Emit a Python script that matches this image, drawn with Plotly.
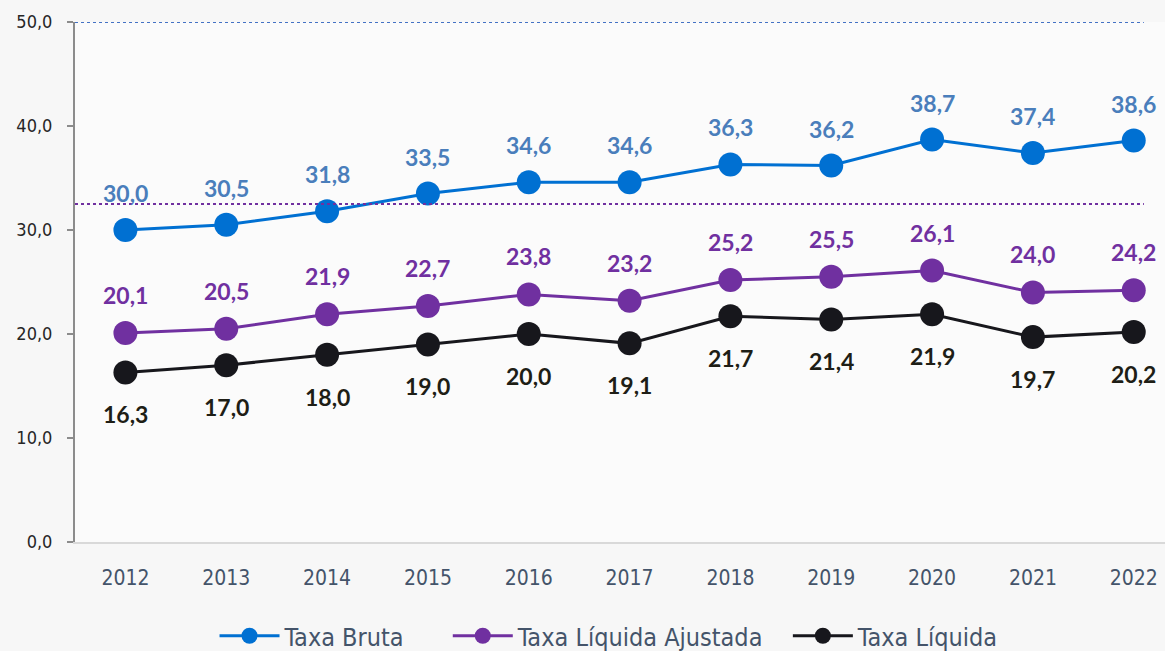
import plotly.graph_objects as go

anos = [2012, 2013, 2014, 2015, 2016, 2017, 2018, 2019, 2020, 2021, 2022]
taxa_bruta = [30.0, 30.5, 31.8, 33.5, 34.6, 34.6, 36.3, 36.2, 38.7, 37.4, 38.6]
taxa_liq_ajustada = [20.1, 20.5, 21.9, 22.7, 23.8, 23.2, 25.2, 25.5, 26.1, 24.0, 24.2]
taxa_liquida = [16.3, 17.0, 18.0, 19.0, 20.0, 19.1, 21.7, 21.4, 21.9, 19.7, 20.2]

# linhas de referencia (pontilhadas)
ref_azul = 50.0
ref_roxa = 32.5

y_ticks = [0, 10, 20, 30, 40, 50]
y_ticktext = ["0,0", "10,0", "20,0", "30,0", "40,0", "50,0"]

narrow = "Liberation Sans Narrow, DejaVu Sans Condensed, Arial Narrow, sans-serif"
label_font = "Lato, Carlito, Calibri, sans-serif"

# nome, valores, cor, cor do rotulo, deslocamento do rotulo, legenda, posicao da legenda
series = [
    ("Taxa Bruta", taxa_bruta, "#0070D2", "#4A7EBB", 37, "legend", 0.128),
    ("Taxa Líquida Ajustada", taxa_liq_ajustada, "#7030A0", "#7030A0", 38, "legend2", 0.342),
    ("Taxa Líquida", taxa_liquida, "#17171C", "#1E1E16", -42, "legend3", 0.654),
]

fig = go.Figure()
annotations = []
legends = {}
for nome, vals, cor, cor_txt, shift, leg, leg_x in series:
    fig.add_trace(go.Scatter(
        x=anos, y=vals, name=nome, mode="lines+markers", legend=leg,
        line=dict(color=cor, width=3),
        marker=dict(color=cor, size=24),
    ))
    legends[leg] = dict(orientation="h", x=leg_x, xanchor="left",
                        yref="container", y=0.023, yanchor="middle",
                        itemwidth=60,
                        font=dict(family=narrow, size=25, color="#44546A"),
                        bgcolor="rgba(0,0,0,0)")
    for a, v in zip(anos, vals):
        annotations.append(dict(
            x=a, y=v, text=f"{v:.1f}".replace(".", ","), showarrow=False,
            yshift=shift, font=dict(family=label_font, size=23, color=cor_txt, weight="bold"),
        ))

shapes = [
    dict(type="line", xref="x", yref="y", x0=2011.5, x1=2022.1, y0=ref_azul, y1=ref_azul,
         line=dict(color="#4472C4", width=2, dash="dot")),
    dict(type="line", xref="x", yref="y", x0=2011.5, x1=2022.1, y0=ref_roxa, y1=ref_roxa,
         line=dict(color="#7030A0", width=2, dash="dot")),
]

fig.update_layout(
    width=1165, height=651,
    margin=dict(l=75, r=0, t=22, b=109),
    paper_bgcolor="#F7F7F7", plot_bgcolor="#FBFBFB",
    showlegend=True,
    annotations=annotations,
    shapes=shapes,
    xaxis=dict(range=[2011.5, 2022.31], tickvals=anos, ticktext=[str(a) for a in anos],
               showgrid=False, zeroline=False, showline=True, linecolor="#D9D9D9", linewidth=2,
               ticks="", ticklabelstandoff=16,
               tickfont=dict(family=narrow, size=21, color="#44546A")),
    yaxis=dict(range=[0, 50], tickvals=y_ticks, ticktext=y_ticktext,
               showgrid=False, zeroline=False, showline=True, linecolor="#8C8C8C", linewidth=2,
               ticks="outside", ticklen=6, tickcolor="#8C8C8C", tickwidth=2, ticklabelstandoff=11,
               tickfont=dict(family=narrow, size=18, color="#262626")),
    **legends,
)

fig.write_html("out.html", config={"displayModeBar": False},
               post_script="document.body.style.margin='0px';")
